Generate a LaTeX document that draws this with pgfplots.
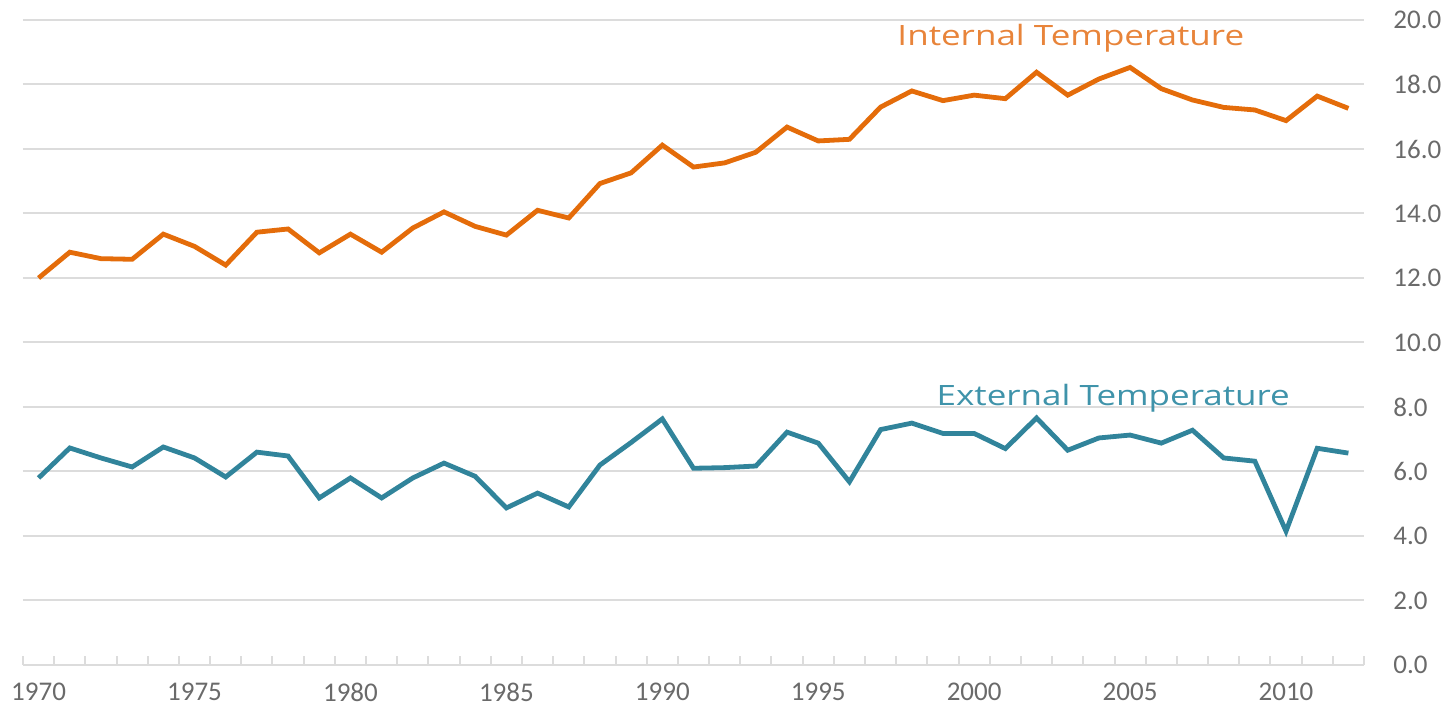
\documentclass[border=0pt]{standalone}
\usepackage{fontspec}
\usepackage{graphicx}
\usepackage{pgfplots}
\pgfplotsset{compat=1.18}
\setmainfont{Carlito}
\newfontfamily\annfont{Open Sans}
\definecolor{intc}{HTML}{E46C0A}
\definecolor{intt}{HTML}{E8843A}
\definecolor{extc}{HTML}{31849B}
\definecolor{extt}{HTML}{3F93AA}
\definecolor{gridc}{HTML}{DCDCDC}
\definecolor{tickc}{HTML}{6A6A6A}
\begin{document}
\begin{tikzpicture}
\begin{axis}[
  at={(0,0)}, anchor=south west,
  scale only axis, width=670.5pt, height=322.5pt,
  xmin=1969.5, xmax=2012.5, ymin=0, ymax=20,
  axis x line*=bottom, axis y line*=right,
  x axis line style={gridc, line width=1pt},
  y axis line style={draw=none},
  xtick={1970,1975,...,2010},
  minor xtick={1969.5,1970.5,...,2012.5},
  ytick={0,2,...,20},
  major tick length=0pt, minor tick length=4.5pt, tick align=inside,
  minor tick style={gridc, line width=1pt},
  ymajorgrids, major grid style={gridc, line width=1pt},
  /pgf/number format/assume math mode=true,
  tick label style={font=\fontsize{13.5}{14}\selectfont, text=tickc},
  xticklabel style={/pgf/number format/1000 sep={}, anchor=north, inner sep=0pt, yshift=-9pt},
  yticklabel style={/pgf/number format/fixed, /pgf/number format/fixed zerofill, /pgf/number format/precision=1, anchor=west, inner sep=0pt, xshift=14.5pt},
  clip=false,
]
\addplot[intc, line width=2.4pt, mark=none] coordinates {
(1970,12.0) (1971,12.8) (1972,12.6) (1973,12.58) (1974,13.36) (1975,12.98)
(1976,12.4) (1977,13.42) (1978,13.52) (1979,12.78) (1980,13.36) (1981,12.8)
(1982,13.55) (1983,14.05) (1984,13.6) (1985,13.33) (1986,14.1) (1987,13.86)
(1988,14.93) (1989,15.26) (1990,16.12) (1991,15.44) (1992,15.57) (1993,15.9)
(1994,16.68) (1995,16.25) (1996,16.3) (1997,17.3) (1998,17.8) (1999,17.5)
(2000,17.67) (2001,17.56) (2002,18.38) (2003,17.67) (2004,18.17) (2005,18.53)
(2006,17.87) (2007,17.52) (2008,17.29) (2009,17.21) (2010,16.88) (2011,17.64)
(2012,17.26)};
\addplot[extc, line width=2.4pt, mark=none] coordinates {
(1970,5.8) (1971,6.73) (1972,6.42) (1973,6.14) (1974,6.76) (1975,6.42)
(1976,5.83) (1977,6.6) (1978,6.48) (1979,5.18) (1980,5.8) (1981,5.18)
(1982,5.8) (1983,6.26) (1984,5.85) (1985,4.87) (1986,5.33) (1987,4.9)
(1988,6.2) (1989,6.9) (1990,7.63) (1991,6.1) (1992,6.12) (1993,6.17)
(1994,7.22) (1995,6.88) (1996,5.68) (1997,7.3) (1998,7.5) (1999,7.18)
(2000,7.18) (2001,6.71) (2002,7.66) (2003,6.66) (2004,7.04) (2005,7.13)
(2006,6.88) (2007,7.28) (2008,6.42) (2009,6.32) (2010,4.15) (2011,6.72)
(2012,6.57)};
\node[anchor=base, inner sep=0pt, text=intt] at (axis cs:2003.1,19.22)
  {\scalebox{1.25}[1]{\annfont\fontsize{14}{16}\selectfont Internal Temperature}};
\node[anchor=base, inner sep=0pt, text=extt] at (axis cs:2004.46,8.06)
  {\scalebox{1.25}[1]{\annfont\fontsize{14}{16}\selectfont External Temperature}};
\end{axis}
\pgfresetboundingbox
\path (-11.5pt,-21pt) rectangle (715pt,332.5pt);
\end{tikzpicture}
\end{document}
